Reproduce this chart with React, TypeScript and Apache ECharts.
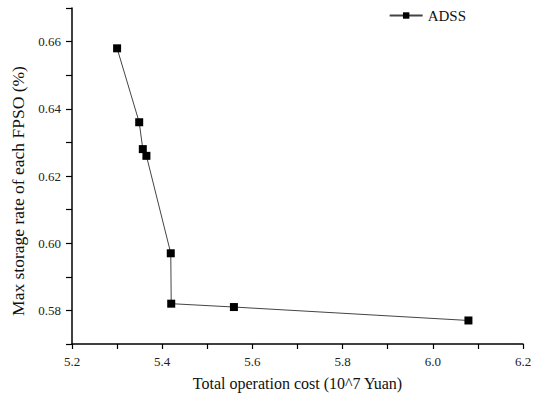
import React, { useEffect, useRef } from "react";
import * as echarts from "echarts";

const costX = [5.3, 5.349, 5.357, 5.365, 5.419, 5.42, 5.559, 6.079];
const storageY = [0.658, 0.636, 0.628, 0.626, 0.597, 0.582, 0.581, 0.577];
const seriesName = "ADSS";

export default function App() {
  const ref = useRef<HTMLDivElement>(null);
  useEffect(() => {
    const chart = echarts.init(ref.current!, null, { renderer: "svg" });
    const font = "'Liberation Serif', 'Times New Roman', serif";
    chart.setOption({
      animation: false,
      textStyle: { fontFamily: font },
      grid: { left: 72, right: 16, top: 8, bottom: 53, containLabel: false },
      legend: {
        data: [seriesName],
        right: 68,
        top: 3,
        itemWidth: 33,
        itemHeight: 8,
        itemGap: 8,
        textStyle: { fontFamily: font, fontSize: 15, color: "#111" },
      },
      xAxis: {
        type: "value",
        min: 5.2,
        max: 6.2,
        interval: 0.1,
        name: "Total operation cost (10^7 Yuan)",
        nameLocation: "middle",
        nameGap: 31,
        nameTextStyle: { fontFamily: font, fontSize: 16, color: "#111" },
        axisLine: { show: true, lineStyle: { color: "#000", width: 1.5 } },
        axisTick: { show: true, inside: false, length: 5, lineStyle: { color: "#000", width: 1.2 } },
        axisLabel: {
          fontFamily: font,
          fontSize: 13,
          color: "#222",
          margin: 11,
          showMinLabel: true,
          showMaxLabel: true,
          formatter: (v: number) => (Math.round(v * 10) % 2 === 0 ? v.toFixed(1) : ""),
        },
        splitLine: { show: false },
      },
      yAxis: {
        type: "value",
        min: 0.57,
        max: 0.67,
        interval: 0.01,
        name: "Max storage rate of each FPSO (%)",
        nameLocation: "middle",
        nameGap: 32,
        nameTextStyle: { fontFamily: font, fontSize: 17.5, color: "#111", padding: [0, 30, 0, 0] },
        axisLine: { show: true, lineStyle: { color: "#000", width: 1.5 } },
        axisTick: { show: true, inside: false, length: 6, lineStyle: { color: "#000", width: 1.2 } },
        axisLabel: {
          fontFamily: font,
          fontSize: 13,
          color: "#222",
          margin: 11,
          formatter: (v: number) => (Math.round(v * 100) % 2 === 0 ? v.toFixed(2) : ""),
        },
        splitLine: { show: false },
      },
      series: [
        {
          name: seriesName,
          type: "line",
          data: costX.map((x, i) => [x, storageY[i]]),
          symbol: "rect",
          symbolSize: 8,
          itemStyle: { color: "#000" },
          lineStyle: { color: "#444", width: 1 },
        },
      ],
    });
    return () => chart.dispose();
  }, []);
  return (
    <div
      ref={ref}
      style={{ position: "fixed", left: 0, top: 0, width: 539, height: 397, background: "#fff" }}
    />
  );
}
